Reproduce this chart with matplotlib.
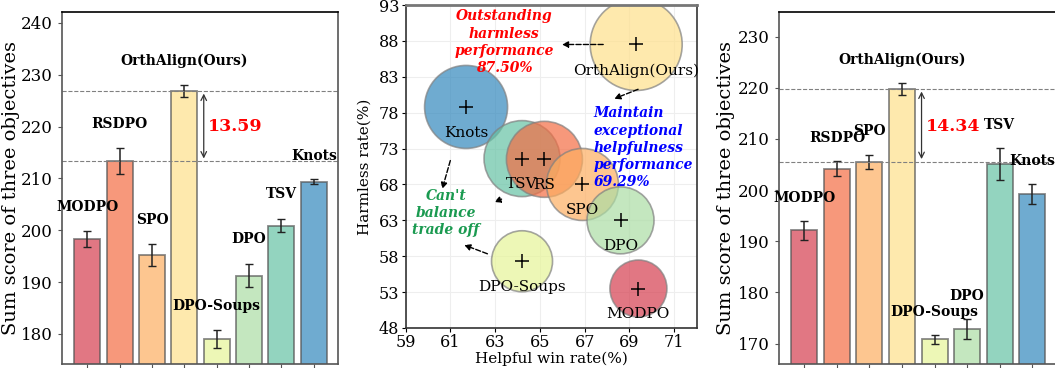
import matplotlib.pyplot as plt
import numpy as np

plt.rcParams['font.family'] = ['DejaVu Serif']

# ---- data ----
methods = ['MODPO', 'RSDPO', 'SPO', 'OrthAlign(Ours)', 'DPO-Soups', 'DPO', 'TSV', 'Knots']
left_vals = [198.3, 213.3, 195.2, 226.9, 179.0, 191.2, 200.9, 209.4]
left_err = [1.6, 2.5, 2.1, 1.2, 1.7, 2.2, 1.3, 0.45]
left_label_y = [204.5, 220.5, 202.0, 232.7, 185.4, 198.3, 207.0, 214.4]

right_vals = [192.1, 204.2, 205.5, 219.8, 170.8, 172.8, 205.1, 199.2]
right_err = [1.9, 1.5, 1.3, 1.2, 0.9, 2.0, 3.2, 2.0]
right_label_y = [198.5, 210.2, 211.5, 225.4, 176.2, 179.3, 212.7, 205.7]

# bubble chart: helpful win rate, harmless rate, bubble size
bub_names = ['OrthAlign(Ours)', 'Knots', 'TSV', 'RS', 'SPO', 'DPO', 'DPO-Soups', 'MODPO']
bub_x = [69.3, 61.7, 64.2, 65.2, 66.9, 68.6, 64.2, 69.4]
bub_y = [87.5, 78.8, 71.6, 71.5, 68.0, 63.0, 57.3, 53.5]
bub_d = [92, 83, 76, 76, 72, 67, 61, 57]   # diameters in px

spectral8 = ['#d53e4f', '#f46d43', '#fdae61', '#fee08b', '#e6f598', '#abdda4', '#66c2a5', '#3288bd']
bub_cols = ['#fee08b', '#3288bd', '#66c2a5', '#f46d43', '#fdae61', '#abdda4', '#e6f598', '#d53e4f']

fig = plt.figure(figsize=(10.55, 3.68), dpi=100)


def bar_panel(ax, vals, errs, label_y, ylim, yticks, hi, lo, gap_txt, txt_y, ylab_x):
    x = np.arange(len(vals))
    ax.bar(x, vals, width=0.8, color=spectral8, alpha=0.7, edgecolor='#555555', linewidth=1.3)
    ax.errorbar(x, vals, yerr=errs, fmt='none', ecolor='#222222', elinewidth=1.1, capsize=3)
    for i, m in enumerate(methods):
        ax.text(i, label_y[i], m, ha='center', va='center', fontsize=10, fontweight='bold')
    ax.axhline(hi, color='gray', ls='--', lw=0.8)
    ax.axhline(lo, color='gray', ls='--', lw=0.8)
    ax.annotate('', xy=(3.6, lo), xytext=(3.6, hi),
                arrowprops=dict(arrowstyle='<->', color='#333333', lw=0.9))
    ax.text(3.72, txt_y, gap_txt, color='red', fontsize=12.5, fontweight='bold', va='center')
    ax.set_ylim(*ylim)
    ax.set_xlim(-0.78, 7.75)
    ax.set_yticks(yticks)
    ax.set_xticks(x)
    ax.set_xticklabels([])
    ax.tick_params(axis='y', labelsize=12, length=3, color='#555555')
    ax.tick_params(axis='x', length=3, color='#555555')
    ax.set_ylabel('Sum score of three objectives', fontsize=14)
    ax.yaxis.set_label_coords(ylab_x, 0.5)
    for s in ax.spines.values():
        s.set_color('#555555')
        s.set_linewidth(1.2)
    ax.spines['top'].set_color('black')


ax1 = fig.add_axes([0.0588, 0.0109, 0.2616, 0.9565])
bar_panel(ax1, left_vals, left_err, left_label_y, (174.2, 242.1),
          [180, 190, 200, 210, 220, 230, 240], left_vals[3], left_vals[1], '13.59', 220.0, -0.152)

ax3 = fig.add_axes([0.7384, 0.0109, 0.2631, 0.9565])
bar_panel(ax3, right_vals, right_err, right_label_y, (166.0, 234.8),
          [170, 180, 190, 200, 210, 220, 230], right_vals[3], right_vals[2], '14.34', 212.4, -0.158)

# ---- middle bubble chart ----
ax2 = fig.add_axes([0.3845, 0.1087, 0.2758, 0.8777])
sizes = [(d * 72 / 100) ** 2 for d in bub_d]
ax2.scatter(bub_x, bub_y, s=sizes, c=bub_cols, alpha=0.7, edgecolors='gray', linewidths=1.2, zorder=2)
ax2.scatter(bub_x, bub_y, marker='+', s=100, c='black', linewidths=1.1, zorder=3)
for n, xx, yy in zip(bub_names, bub_x, bub_y):
    ax2.text(xx, yy - 3.6, n, ha='center', va='center', fontsize=11, zorder=4)

ax2.text(63.4, 87.8, 'Outstanding\nharmless\nperformance\n87.50%', color='red', fontsize=10,
         fontweight='bold', style='italic', ha='center', va='center', linespacing=1.3, zorder=5)
ax2.text(67.4, 73.1, 'Maintain\nexceptional\nhelpfulness\nperformance\n69.29%', color='blue',
         fontsize=10, fontweight='bold', style='italic', ha='left', va='center',
         linespacing=1.3, zorder=5)
ax2.text(60.8, 64.0, "Can't\nbalance\ntrade off", color='#1a9a50', fontsize=10,
         fontweight='bold', style='italic', ha='center', va='center', linespacing=1.3, zorder=5)

arr = dict(arrowstyle='-|>', color='black', ls='--', lw=1.0, mutation_scale=9)
for (x0, y0), (x1, y1) in [((67.95, 87.5), (65.86, 87.5)),
                           ((69.5, 81.4), (68.2, 79.8)),
                           ((61.03, 71.7), (60.6, 67.0)),
                           ((63.4, 66.1), (62.85, 65.4)),
                           ((62.77, 58.2), (61.5, 59.7))]:
    ax2.annotate('', xy=(x1, y1), xytext=(x0, y0), arrowprops=arr, zorder=5)

ax2.set_xlim(59, 72)
ax2.set_ylim(48, 93)
ax2.set_xticks(np.arange(59, 72, 2))
ax2.set_yticks(np.arange(48, 94, 5))
ax2.grid(True, color='#eeeeee', lw=0.8, zorder=0)
ax2.set_axisbelow(True)
ax2.tick_params(labelsize=11.5, length=3, pad=1.5)
ax2.set_xlabel('Helpful win rate(%)', fontsize=11)
ax2.set_ylabel('Harmless rate(%)', fontsize=11)
ax2.xaxis.set_label_coords(0.5, -0.072)
ax2.yaxis.set_label_coords(-0.117, 0.5)
for s in ax2.spines.values():
    s.set_color('#333333')
    s.set_linewidth(1.2)
ax2.spines['top'].set_color('#777777')
ax2.spines['top'].set_linewidth(2)

fig.savefig('out.png', dpi=100)
